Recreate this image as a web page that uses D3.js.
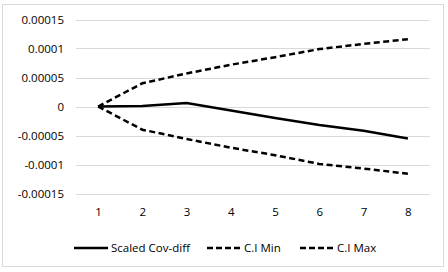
<!DOCTYPE html>
<html>
<head>
<meta charset="utf-8">
<script src="https://cdn.jsdelivr.net/npm/d3@7"></script>
<style>
body { margin: 0; background: #fff; }
text { font-family: "Open Sans", "Liberation Sans", sans-serif; fill: #000; }
</style>
</head>
<body>
<div id="chart"></div>
<script>
// values
const categories = [1, 2, 3, 4, 5, 6, 7, 8];
const covDiff = [0, 0.000001, 0.000006, -0.000007, -0.00002, -0.000032, -0.000042, -0.000055];
const ciMin = [0, -0.00004, -0.000056, -0.000071, -0.000084, -0.000099, -0.000107, -0.000116];
const ciMax = [0, 0.00004, 0.000057, 0.000072, 0.000085, 0.000099, 0.000108, 0.000116];
const yTicks = [0.00015, 0.0001, 0.00005, 0, -0.00005, -0.0001, -0.00015];
const seriesNames = ['Scaled Cov-diff', 'C.I Min', 'C.I Max'];

const width = 448, height = 272;
const plotLeft = 76, plotRight = 430, plotTop = 19.5, plotBottom = 193.5;

const svg = d3.select('#chart')
    .append('svg')
    .attr('width', width)
    .attr('height', height);

// chart frame
svg.append('rect')
    .attr('x', 2.5).attr('y', 4.5)
    .attr('width', 441).attr('height', 262)
    .style('fill', '#fff')
    .style('stroke', '#d9d9d9')
    .style('stroke-width', 1);

let scaleX = d3.scalePoint().domain(categories).range([plotLeft, plotRight]).padding(0.5);
let scaleY = d3.scaleLinear().domain([-0.00015, 0.00015]).range([plotBottom, plotTop]);

// gridlines
svg.selectAll('.grid')
    .data(yTicks)
    .enter()
    .append('line')
    .attr('class', 'grid')
    .attr('x1', plotLeft).attr('x2', plotRight)
    .attr('y1', d => Math.round(scaleY(d)) + 0.5)
    .attr('y2', d => Math.round(scaleY(d)) + 0.5)
    .style('stroke', '#d9d9d9')
    .style('stroke-width', 1);

let yAxis = d3.axisLeft(scaleY).tickValues(yTicks).tickSize(0).tickPadding(12)
    .tickFormat(d => d === 0 ? '0' : String(+d.toFixed(5)));
let xAxis = d3.axisBottom(scaleX).tickSize(0).tickPadding(14);

let yAxisGroup = svg.append('g')
    .attr('transform', 'translate(' + plotLeft + ',0)')
    .call(yAxis);
let xAxisGroup = svg.append('g')
    .attr('transform', 'translate(0,' + plotBottom + ')')
    .call(xAxis);

[yAxisGroup, xAxisGroup].forEach(g => {
    g.select('.domain').remove();
    g.selectAll('text').style('font-size', '11.5px').style('font-family', '"Open Sans", sans-serif');
});

let line = d3.line()
    .x((d, i) => scaleX(categories[i]))
    .y(d => scaleY(d));

const series = [
    { name: seriesNames[0], values: covDiff, dash: null },
    { name: seriesNames[1], values: ciMin, dash: '6,3.5' },
    { name: seriesNames[2], values: ciMax, dash: '6,3.5' }
];

series.forEach(s => {
    svg.append('path')
        .datum(s.values)
        .attr('d', line)
        .style('fill', 'none')
        .style('stroke', '#000')
        .style('stroke-width', 2.5)
        .style('stroke-dasharray', s.dash);
});

// legend
const legendX = [74, 207, 300];
const legendY = 248;
series.forEach((s, i) => {
    svg.append('line')
        .attr('x1', legendX[i]).attr('x2', legendX[i] + 34)
        .attr('y1', legendY).attr('y2', legendY)
        .style('stroke', '#000')
        .style('stroke-width', 2.5)
        .style('stroke-dasharray', s.dash ? '6,3' : null);
    svg.append('text')
        .attr('x', legendX[i] + 37)
        .attr('y', legendY)
        .attr('dy', '0.35em')
        .style('font-size', '11.5px')
        .text(s.name);
});
</script>
</body>
</html>
